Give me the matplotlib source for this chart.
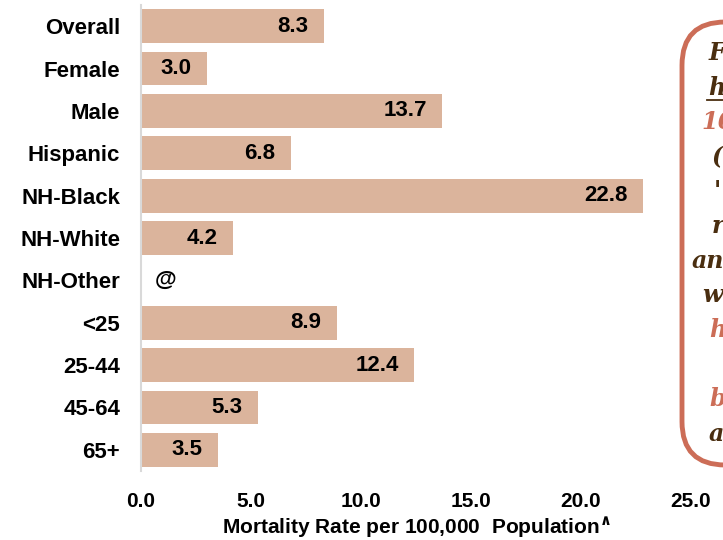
import numpy as np
import matplotlib
matplotlib.use("Agg")
import matplotlib.pyplot as plt
from matplotlib.patches import FancyBboxPatch

categories = ["Overall", "Female", "Male", "Hispanic", "NH-Black", "NH-White",
              "NH-Other", "<25", "25-44", "45-64", "65+"]
rates = [8.3, 3.0, 13.7, 6.8, 22.8, 4.2, np.nan, 8.9, 12.4, 5.3, 3.5]
suppressed_mark = "@"
x_ticks = [0, 5, 10, 15, 20, 25]
x_tick_labels = ["0.0", "5.0", "10.0", "15.0", "20.0", "25.0"]
x_label = "Mortality Rate per 100,000  Population$^{\\mathbf{\\wedge}}$"

# side note fragments (text, colour key)
note_lines = [("F", "dark"), ("h", "dark_u"), ("16", "accent"), ("(", "dark"),
              ("'", "dark"), ("r", "dark"), ("an", "dark"), ("w", "dark"),
              ("h", "accent"), ("", "dark"), ("b", "accent"), ("a", "dark")]
note_x = [709, 708, 701, 712, 714, 712, 692, 702, 709, 709, 709, 709]

BAR = "#DBB49C"
DARK = "#4A2E10"
ACCENT = "#CC6D57"

plt.rcParams["font.family"] = ["Liberation Sans", "DejaVu Sans"]
plt.rcParams["font.weight"] = "bold"

W, H = 723, 540
fig = plt.figure(figsize=(W / 100, H / 100), dpi=100)
ax = fig.add_axes([141 / W, 1 - 471 / H, 550 / W, 466 / H])

y = np.arange(len(categories))
vals = np.nan_to_num(np.array(rates, dtype=float))
ax.barh(y, vals, height=0.8, color=BAR, edgecolor="none")

for yi, v in zip(y, rates):
    if np.isnan(v):
        ax.annotate(suppressed_mark, (0, yi), xytext=(10, 0), textcoords="offset points",
                    ha="left", va="center", fontsize=16, fontweight="bold", color="black")
    else:
        ax.annotate(f"{v:.1f}", (v, yi), xytext=(-11, 0), textcoords="offset points",
                    ha="right", va="center", fontsize=16, fontweight="bold", color="black")

ax.set_xlim(0, 25)
ax.set_ylim(len(categories) - 0.5, -0.5)
ax.set_yticks(y)
ax.set_yticklabels(categories, fontsize=16, fontweight="bold")
ax.set_xticks(x_ticks)
ax.set_xticklabels(x_tick_labels, fontsize=15, fontweight="bold")
ax.tick_params(axis="both", length=0)
ax.tick_params(axis="y", pad=15)
ax.tick_params(axis="x", pad=15)
ax.set_xlabel(x_label, fontsize=15, fontweight="bold")
ax.xaxis.set_label_coords(0.5, (471 - 527) / 466)
ax.xaxis.label.set_va("center")
for s in ("top", "right", "bottom"):
    ax.spines[s].set_visible(False)
ax.spines["left"].set_color("#D9D9D9")
ax.spines["left"].set_linewidth(1.5)

# rounded note box on the right edge
box = FancyBboxPatch((682 / W, 1 - 465 / H), 120 / W, 443 / H,
                     boxstyle="round,pad=0,rounding_size=0.06",
                     transform=fig.transFigure, facecolor="white",
                     edgecolor=ACCENT, linewidth=3.5, mutation_aspect=W / H)
fig.patches.append(box)

y0, dy = 53, 34.6
for i, ((txt, key), xp) in enumerate(zip(note_lines, note_x)):
    if not txt:
        continue
    color = ACCENT if key == "accent" else DARK
    fig.text(xp / W, 1 - (y0 + i * dy) / H, txt, ha="left", va="center",
             fontsize=17, fontweight="bold", fontstyle="italic",
             family=["DejaVu Serif"], color=color)
    if key == "dark_u":
        fig.add_artist(plt.Line2D([707 / W, 1.0], [1 - (y0 + i * dy + 12) / H] * 2,
                                  transform=fig.transFigure, color=DARK, lw=1.3))

fig.savefig("out.png", dpi=100)
